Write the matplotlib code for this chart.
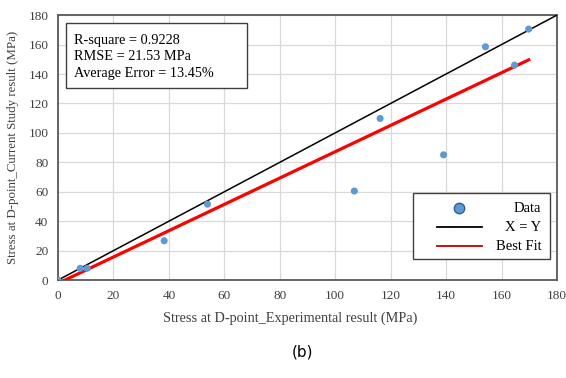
import numpy as np
import matplotlib
matplotlib.use("Agg")
import matplotlib.pyplot as plt
from matplotlib.patches import Rectangle

# measured points (experimental vs current study), MPa
exp_vals = [0, 8, 10.5, 38.3, 53.9, 106.9, 116.2, 139.1, 154.2, 164.7, 169.8]
study_vals = [0, 8, 8, 26.7, 51.6, 60.5, 109.8, 85.1, 158.5, 146, 170.5]

# best fit line
fit_slope = 0.894
fit_intercept = -2.2
fit_x = [2.5, 169.8]

ticks = [0, 20, 40, 60, 80, 100, 120, 140, 160, 180]
stats_lines = ["R-square = 0.9228", "RMSE = 21.53 MPa", "Average Error = 13.45%"]
legend_labels = ["Data", "X = Y", "Best Fit"]

plt.rcParams['font.family'] = ['Liberation Serif', 'DejaVu Serif']

fig = plt.figure(figsize=(5.66, 3.78), dpi=100)
ax = fig.add_axes([0.1025, 0.259, 0.8815, 0.701])

ax.grid(True, color='#d9d9d9', linewidth=0.9)
ax.set_axisbelow(True)

ax.plot([0, 180], [0, 180], color='black', linewidth=1.1, zorder=3)
fx = np.array(fit_x)
ax.plot(fx, fit_slope * fx + fit_intercept, color='#ff0000', linewidth=2.3, zorder=3)
ax.scatter(exp_vals, study_vals, s=26, color='#5b9bd5', edgecolors='none', zorder=4)

ax.set_xlim(0, 180)
ax.set_ylim(0, 180)
ax.set_xticks(ticks)
ax.set_yticks(ticks)
ax.tick_params(length=0, labelsize=9.5, colors='#404040', pad=7)
for s in ax.spines.values():
    s.set_color('#595959')
    s.set_linewidth(1.3)

ax.set_xlabel("Stress at D-point_Experimental result (MPa)", fontsize=10.3, color='#404040')
ax.xaxis.set_label_coords(0.466, -0.12)
ax.set_ylabel("Stress at D-point_Current Study result (MPa)", fontsize=9.3, color='#404040', labelpad=7)

# stats box
ax.add_patch(Rectangle((2.9, 130.4), 65.3, 44.2, facecolor='white', edgecolor='#404040',
                       linewidth=1, zorder=5))
for i, line in enumerate(stats_lines):
    ax.text(5.8, 163 - i * 11.3, line, fontsize=10.3, va='center', ha='left', zorder=6)

# legend, drawn by hand so the labels sit right-aligned
ax.add_patch(Rectangle((128.2, 14.3), 49.4, 44.8, facecolor='white', edgecolor='#404040',
                       linewidth=1, zorder=5))
rows = [48.9, 36.0, 23.1]
ax.plot([144.8], [rows[0]], linestyle='none', marker='o', markersize=7.5,
        markerfacecolor='#5b9bd5', markeredgecolor='#2e5f8f', markeredgewidth=1, zorder=6)
ax.plot([136.8, 153.1], [rows[1], rows[1]], color='black', linewidth=1.3, zorder=6)
ax.plot([136.8, 153.1], [rows[2], rows[2]], color='#c00000', linewidth=1.3, zorder=6)
for lab, yv in zip(legend_labels, rows):
    ax.text(174.4, yv, lab, fontsize=10.5, va='center', ha='right', zorder=6)

fig.text(0.534, 0.07, "(b)", fontsize=11, family='DejaVu Sans', ha='center', va='center')

fig.savefig("out.png", dpi=100)
